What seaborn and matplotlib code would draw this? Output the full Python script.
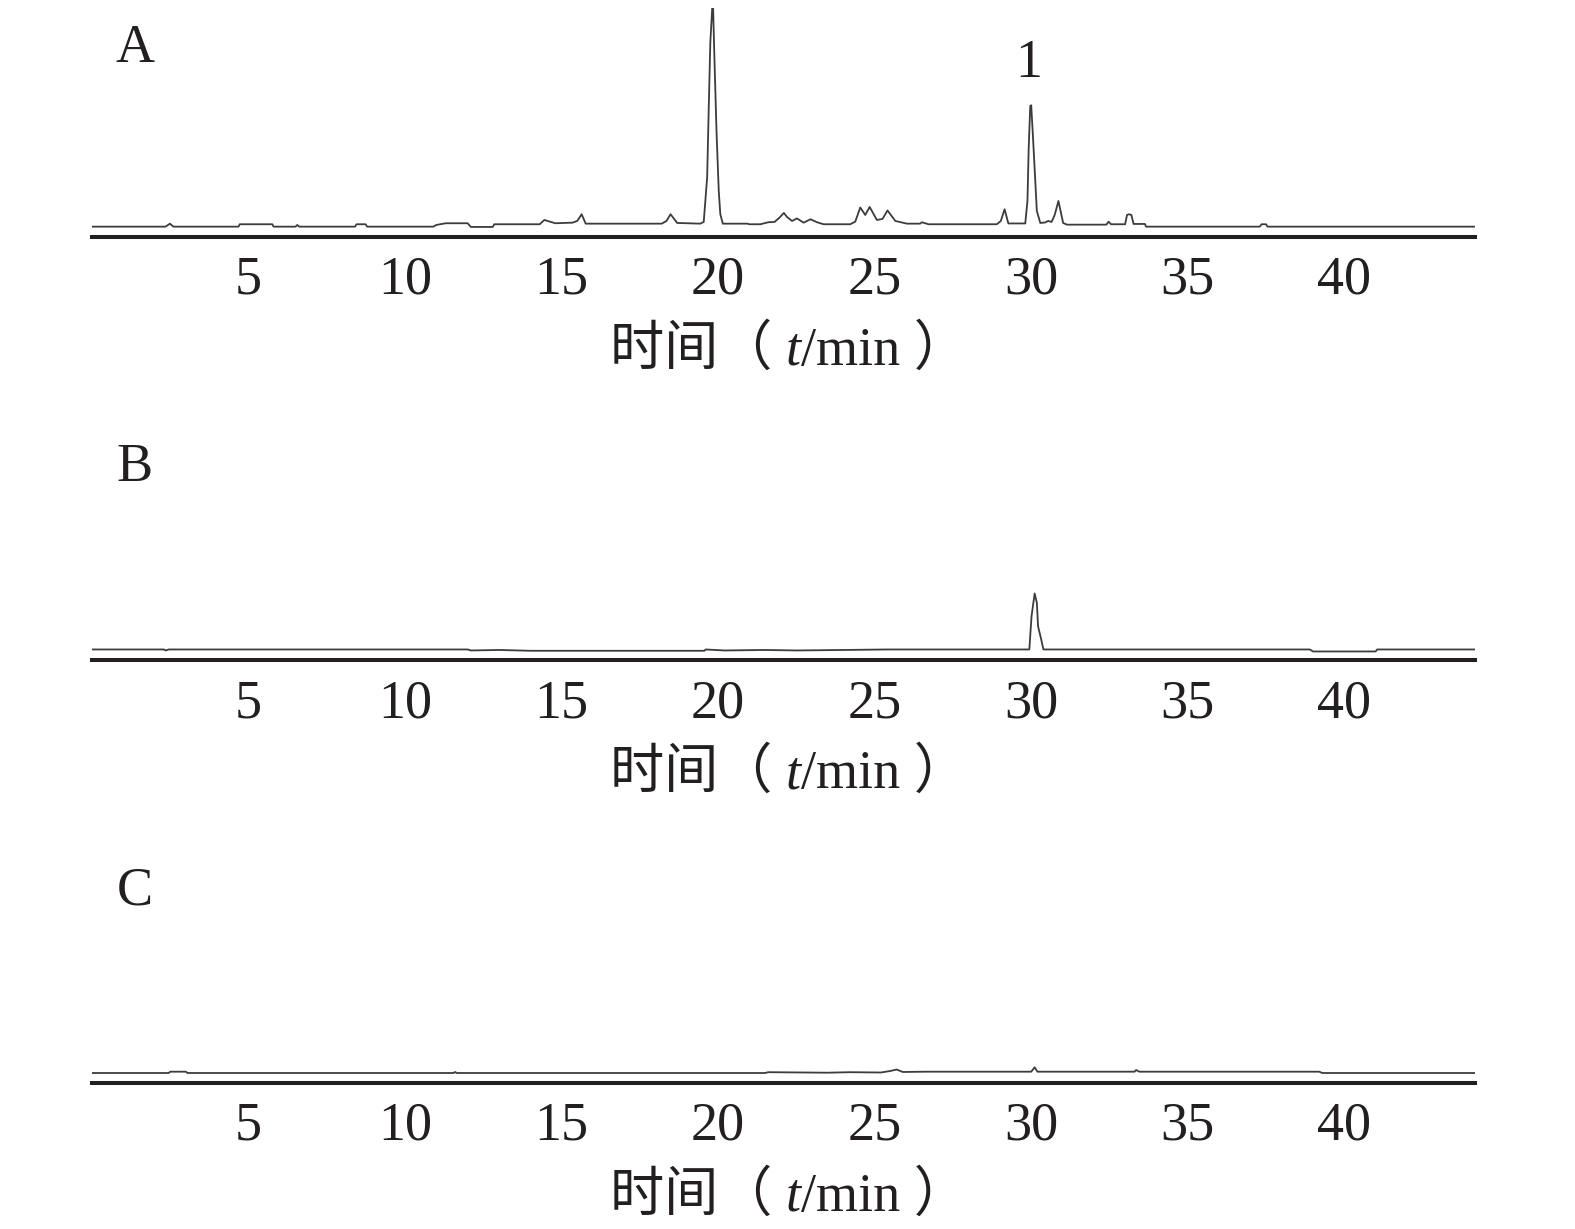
import numpy as np
import pandas as pd
import matplotlib
matplotlib.use("Agg")
import matplotlib.pyplot as plt
import seaborn as sns
from matplotlib.offsetbox import TextArea, HPacker, AnchoredOffsetbox

# Chromatogram traces (time in min, signal in arbitrary units)
tA = [0.0, 2.35, 2.49, 2.6, 4.68, 4.72, 5.76, 5.8, 6.5, 6.56, 6.62, 8.4, 8.45, 8.74, 8.79,
      10.9, 11.0, 11.3, 12.0, 12.1, 12.8, 12.85, 14.3, 14.45, 14.55, 14.8, 15.35, 15.5,
      15.64, 15.77, 18.2, 18.35, 18.48, 18.62, 18.69, 19.43, 19.54, 19.65, 19.7, 19.75,
      19.83, 19.88, 19.95, 20.02, 20.07, 20.15, 20.93, 21.0, 21.35, 21.6, 21.8, 21.95,
      22.1, 22.2, 22.36, 22.52, 22.73, 22.95, 23.16, 23.37, 24.22, 24.38, 24.54, 24.7,
      24.84, 25.07, 25.25, 25.41, 25.66, 26.03, 26.45, 26.51, 26.72, 28.9, 29.03, 29.15,
      29.27, 29.81, 29.88, 29.92, 29.97, 30.0, 30.05, 30.13, 30.18, 30.29, 30.45, 30.54,
      30.65, 30.75, 30.87, 31.02, 31.14, 32.4, 32.47, 32.55, 33.0, 33.06, 33.12, 33.2,
      33.27, 33.63, 33.67, 37.3, 37.36, 37.5, 37.55, 44.2]
yA = [10.3, 10.3, 13.3, 10.3, 10.3, 12.7, 12.7, 10.3, 10.3, 12.0, 10.3, 10.3, 12.7, 12.7, 10.3,
      10.3, 12.0, 13.7, 13.7, 10.0, 10.0, 12.7, 12.7, 17.0, 16.0, 13.7, 14.3, 16.0,
      22.7, 13.3, 13.3, 16.0, 22.7, 17.0, 14.0, 13.3, 15.0, 60.0, 129.0, 194.0,
      240.0, 181.0, 104.0, 46.0, 22.7, 13.3, 13.3, 12.7, 12.7, 14.7, 15.0, 19.0,
      24.0, 20.0, 16.0, 18.5, 14.3, 17.7, 14.7, 12.7, 12.7, 15.3, 29.5, 22.0,
      30.0, 17.0, 18.0, 26.5, 16.0, 13.3, 13.3, 14.7, 12.7, 12.7, 16.0, 27.7,
      13.5, 13.5, 36.0, 89.0, 131.0, 131.7, 104.0, 56.0, 26.0, 14.0, 14.5, 16.0,
      15.0, 22.0, 36.0, 14.0, 12.3, 12.3, 15.3, 12.7, 12.7, 22.0, 22.7, 22.0,
      13.0, 13.0, 10.3, 10.3, 12.7, 12.7, 10.3, 10.3]

tB = [0.0, 2.3, 2.35, 2.45, 12.0, 12.1, 13.0, 14.0, 19.56, 19.6, 20.2, 21.5, 22.5, 24.0,
      25.4, 29.94, 30.01, 30.11, 30.18, 30.22, 30.32, 30.39, 38.9, 39.0, 41.0, 41.05, 44.2]
yB = [11.0, 11.0, 10.0, 11.0, 11.0, 10.0, 10.5, 9.7, 9.7, 11.0, 10.0, 10.5, 10.0, 10.5,
      11.0, 11.0, 44.0, 67.0, 57.7, 34.0, 21.0, 11.0, 11.0, 9.0, 9.0, 11.0, 11.0]

tC = [0.0, 2.45, 2.5, 3.0, 3.05, 11.55, 11.6, 11.65, 21.5, 21.6, 23.5, 24.2, 25.2, 25.5,
      25.7, 25.9, 26.6, 30.0, 30.11, 30.2, 33.3, 33.35, 33.45, 39.2, 39.3, 44.2]
yC = [10.0, 10.0, 11.3, 11.3, 10.0, 10.0, 11.0, 10.0, 10.0, 10.8, 10.3, 10.8, 10.5, 12.0,
      13.5, 11.0, 11.3, 11.3, 15.7, 11.3, 11.3, 13.0, 11.3, 11.3, 10.0, 10.0]

panel_labels = ["A", "B", "C"]
xticks = [5, 10, 15, 20, 25, 30, 35, 40]
peak_label = "1"
peak_time, peak_height = 30.0, 131.7

sns.set_style("white")
plt.rcParams["font.family"] = ["Liberation Serif", "Noto Sans CJK SC"]

ink = "#231f20"
trace_col = "#3c3c3c"
fs = 39

fig = plt.figure(figsize=(15.75, 12.29), dpi=100)
bottoms = [0.8072, 0.4626, 0.1188]
label_y = [0.82, 0.843, 0.838]
traces = [(tA, yA), (tB, yB), (tC, yC)]

for (t, y), lab, b, ly in zip(traces, panel_labels, bottoms, label_y):
    ax = fig.add_axes([0.0584, b, 0.878, 0.1863])
    df = pd.DataFrame({"t": t, "signal": y})
    sns.lineplot(data=df, x="t", y="signal", ax=ax, color=trace_col, lw=1.3,
                 estimator=None, sort=False)
    ax.set(xlabel="", ylabel="")
    ax.set_xlim(0, 44.17)
    ax.set_ylim(0, 229)
    for s in ["left", "right", "top"]:
        ax.spines[s].set_visible(False)
    ax.spines["bottom"].set_linewidth(2.9)
    ax.spines["bottom"].set_color(ink)
    ax.set_yticks([])
    ax.set_xticks(xticks)
    ax.set_xticklabels([str(v) for v in xticks])
    ax.tick_params(axis="x", direction="in", length=9.4, width=2.2, pad=13,
                   labelsize=fs, color=ink, labelcolor=ink)
    ax.patch.set_alpha(0)

    ax.text(0.031, ly, lab, transform=ax.transAxes, fontsize=fs,
            ha="center", va="center", color=ink)

    parts = [TextArea("时间（ ", textprops=dict(size=fs, color=ink)),
             TextArea("t", textprops=dict(size=fs, color=ink, style="italic")),
             TextArea("/min ）", textprops=dict(size=fs, color=ink))]
    box = HPacker(children=parts, align="baseline", pad=0, sep=0)
    anch = AnchoredOffsetbox(loc="center", child=box, pad=0, borderpad=0, frameon=False,
                             bbox_to_anchor=(0.504, -0.498), bbox_transform=ax.transAxes)
    fig.add_artist(anch)

    if lab == "A":
        ax.annotate(peak_label, xy=(peak_time, peak_height), xytext=(-2, 20.5),
                    textcoords="offset points", ha="center", va="baseline",
                    fontsize=fs, color=ink)

fig.savefig("out.png", dpi=100)
